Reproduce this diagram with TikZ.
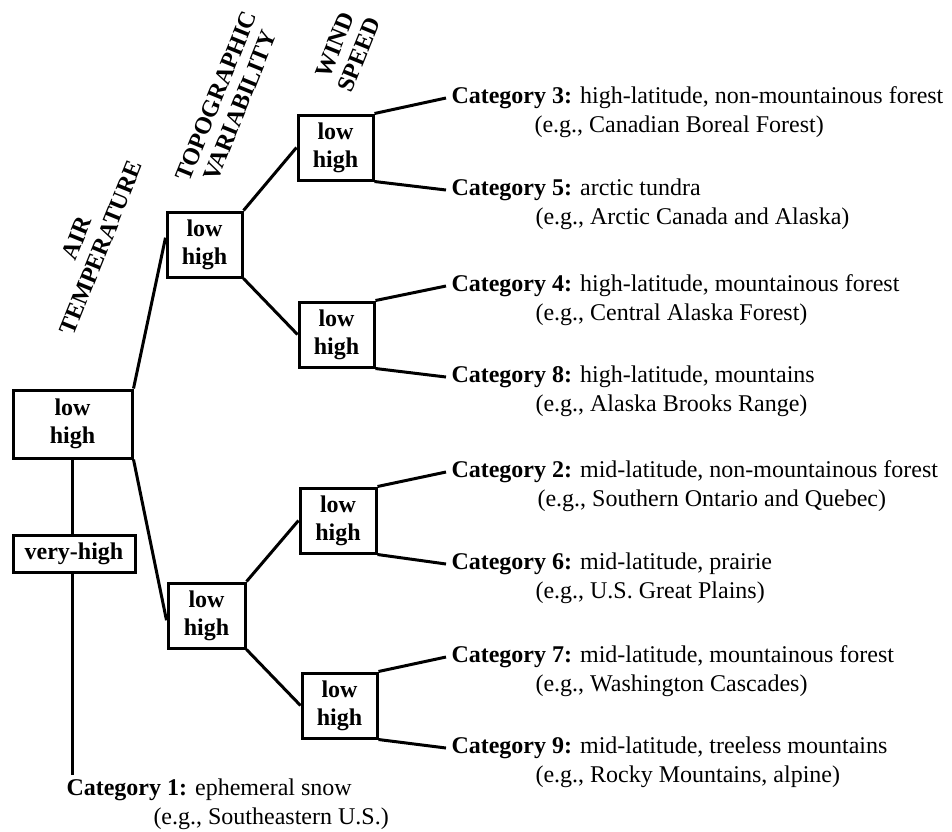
\documentclass[tikz,border=0pt]{standalone}
\usepackage{fontspec}
\setmainfont{Liberation Serif}
\usetikzlibrary{calc}
\begin{document}
\begin{tikzpicture}[x=1pt,y=-1pt,line width=3pt,
  box/.style={draw,line width=3pt,font=\fontsize{24}{28}\selectfont\bfseries,align=center,inner sep=0pt,minimum width=75pt,minimum height=65pt},
  cat/.style={anchor=west,inner xsep=4pt,inner ysep=0pt,font=\fontsize{24}{28}\selectfont},
  eg/.style={anchor=west,inner sep=0pt,font=\fontsize{24}{28}\selectfont},
  head/.style={font=\fontsize{24}{26}\selectfont\bfseries,align=center,rotate=68,inner sep=0pt}]
\useasboundingbox (0,0) rectangle (952,831);
% headings
\node[head] (hair) at (89,243) {AIR\\TEMPERATURE};
\node[head] (htopo) at (228,101) {TOPOGRAPHIC\\VARIABILITY};
\node[head] (hwind) at (347,50) {WIND\\SPEED};
% boxes
\node[box,minimum width=119pt,minimum height=68pt] (root) at (72.5,424) {low\\high};
\node[box,minimum width=122pt,minimum height=37pt] (vh) at (74,553.5) {very-high};
\node[box] (tv1) at (204.5,244.5) {low\\high};
\node[box,minimum width=77pt] (tv2) at (206.5,615.5) {low\\high};
\node[box] (w1) at (335.5,147.5) {low\\high};
\node[box] (w2) at (336.5,334.5) {low\\high};
\node[box,minimum width=76pt] (w3) at (338,520.5) {low\\high};
\node[box] (w4) at (339.5,705.5) {low\\high};
% categories
\node[cat] (c3) at (446,98) {\textbf{Category 3:} high-latitude, non-mountainous forest};
\node[eg] (c3e) at (533,127) {(e.g., Canadian Boreal Forest)};
\node[cat] (c5) at (446,190) {\textbf{Category 5:} arctic tundra};
\node[eg] (c5e) at (534,219) {(e.g., Arctic Canada and Alaska)};
\node[cat] (c4) at (446,286) {\textbf{Category 4:} high-latitude, mountainous forest};
\node[eg] (c4e) at (534,315) {(e.g., Central Alaska Forest)};
\node[cat] (c8) at (446,377) {\textbf{Category 8:} high-latitude, mountains};
\node[eg] (c8e) at (534,406) {(e.g., Alaska Brooks Range)};
\node[cat] (c2) at (446,472) {\textbf{Category 2:} mid-latitude, non-mountainous forest};
\node[eg] (c2e) at (536,501) {(e.g., Southern Ontario and Quebec)};
\node[cat] (c6) at (446,564) {\textbf{Category 6:} mid-latitude, prairie};
\node[eg] (c6e) at (534,593) {(e.g., U.S. Great Plains)};
\node[cat] (c7) at (446,657) {\textbf{Category 7:} mid-latitude, mountainous forest};
\node[eg] (c7e) at (534,686) {(e.g., Washington Cascades)};
\node[cat] (c9) at (446,748) {\textbf{Category 9:} mid-latitude, treeless mountains};
\node[eg] (c9e) at (534,777) {(e.g., Rocky Mountains, alpine)};
\node[eg] (c1) at (65,790) {\textbf{Category 1:} ephemeral snow};
\node[eg] (c1e) at (152,819) {(e.g., Southeastern U.S.)};
\coordinate (c1end) at (72.5,775);
% connectors
\draw (root.north east) -- ($(tv1.north west)!0.4!(tv1.south west)$);
\draw (root.south east) -- ($(tv2.north west)!0.57!(tv2.south west)$);
\draw (root.south) -- (root.south |- vh.north);
\draw (root.south |- vh.south) -- (c1end);
\draw (tv1.north east) -- (w1.west);
\draw (tv1.south east) -- (w2.west);
\draw (tv2.north east) -- (w3.west);
\draw (tv2.south east) -- (w4.west);
\draw (w1.north east) -- (c3.west);
\draw (w1.south east) -- (c5.west);
\draw (w2.north east) -- (c4.west);
\draw (w2.south east) -- (c8.west);
\draw (w3.north east) -- (c2.west);
\draw (w3.south east) -- (c6.west);
\draw (w4.north east) -- (c7.west);
\draw (w4.south east) -- (c9.west);
\end{tikzpicture}
\end{document}
